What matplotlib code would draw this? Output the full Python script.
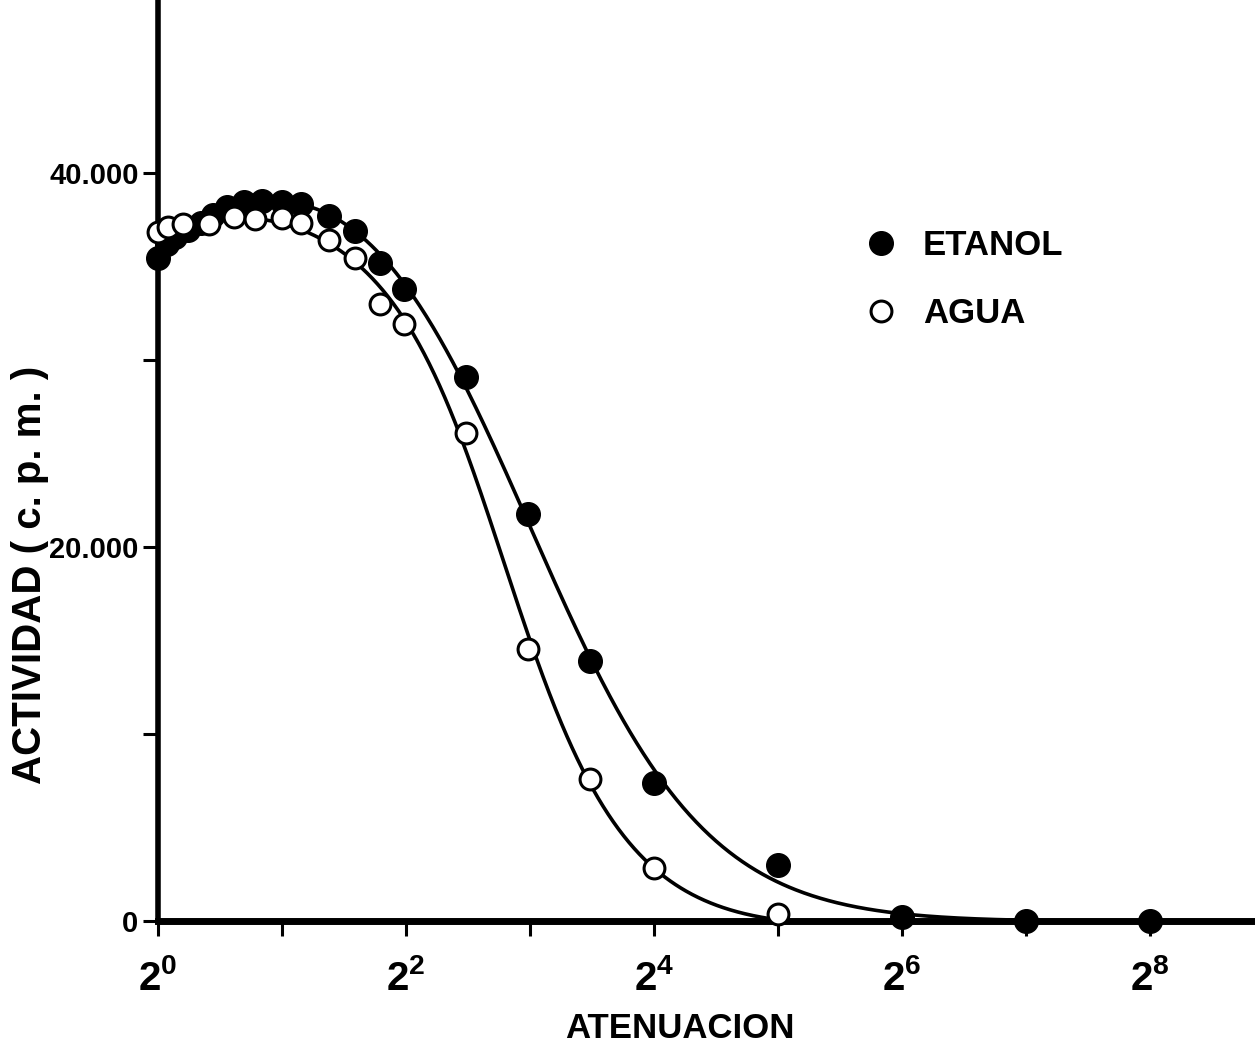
import numpy as np
import matplotlib
matplotlib.use("Agg")
import matplotlib.pyplot as plt
from matplotlib.ticker import NullLocator

# atenuacion (dilucion) y actividad en c.p.m.
aten_etanol = [1.00, 1.05, 1.10, 1.18, 1.27, 1.36, 1.47, 1.62, 1.79, 2.00, 2.23,
               2.60, 3.00, 3.46, 3.95, 5.6, 7.9, 11.2, 16, 32, 64, 128, 256]
act_etanol = [35440, 36210, 36600, 36950, 37350, 37740, 38200, 38450, 38480,
              38460, 38340, 37700, 36890, 35170, 33820, 29070, 21740, 13880,
              7370, 2990, 230, 0, 0]

aten_agua = [1.00, 1.06, 1.15, 1.33, 1.53, 1.72, 2.00, 2.23, 2.60, 3.00, 3.46,
             3.95, 5.6, 7.9, 11.2, 16, 32]
act_agua = [36830, 37120, 37260, 37250, 37620, 37550, 37600, 37320, 36410,
            35440, 32970, 31950, 26070, 14570, 7620, 2810, 370]

y_ticks = [0, 10000, 20000, 30000, 40000]
y_labels = ["0", "", "20.000", "", "40.000"]
x_pot = list(range(9))


def ajuste(aten, act):
    # curva tipo Richards en log2(x) con numerador cuadratico,
    # busqueda en rejilla y minimos cuadrados lineales
    x = np.log2(aten)
    y = np.asarray(act, float)
    x0, s, nu = np.meshgrid(np.linspace(1.5, 5.0, 71),
                            np.linspace(0.15, 1.5, 55),
                            np.geomspace(0.15, 4.0, 40), indexing="ij")
    x0, s, nu = x0.ravel(), s.ravel(), nu.ravel()
    z = np.clip((x[None, :] - x0[:, None]) / s[:, None], -50, 50)
    g = (1 + np.exp(z)) ** -nu[:, None]
    A = np.stack([g, g * x, g * x**2], axis=2)
    AtA = np.einsum("nij,nik->njk", A, A) + 1e-9 * np.eye(3)
    Aty = np.einsum("nij,i->nj", A, y)
    c = np.linalg.solve(AtA, Aty[..., None])[..., 0]
    err = ((np.einsum("nij,nj->ni", A, c) - y) ** 2).sum(axis=1)
    k = np.argmin(err)
    p = (x0[k], s[k], nu[k], c[k])

    def f(xq):
        gq = (1 + np.exp(np.clip((xq - p[0]) / p[1], -50, 50))) ** -p[2]
        return gq * (p[3][0] + p[3][1] * xq + p[3][2] * xq**2)
    return f


fuente = ["Liberation Sans", "DejaVu Sans"]
plt.rcParams["mathtext.fontset"] = "custom"
for k in ["rm", "it", "bf"]:
    plt.rcParams["mathtext." + k] = "Liberation Sans:bold"

fig = plt.figure(figsize=(12.55, 10.52), dpi=100)
ax = fig.add_axes([158 / 1255, 131 / 1052, 1097 / 1255, 921 / 1052])

# curvas ajustadas en escala log2
for aten, act in [(aten_etanol, act_etanol), (aten_agua, act_agua)]:
    f = ajuste(aten, act)
    lx = np.log2(aten)
    xs = np.linspace(lx[0], lx[-1], 600)
    ys = np.clip(f(xs), 0, None)
    ax.plot(2**xs, ys, color="black", lw=2.6, solid_capstyle="round", zorder=2)

ax.plot(aten_etanol, act_etanol, "o", ms=17, color="black", mec="black",
        clip_on=False, zorder=3, label="ETANOL")
ax.plot(aten_agua, act_agua, "o", ms=15, mfc="white", mec="black", mew=2.2,
        clip_on=False, zorder=4, label="AGUA")

ax.set_xscale("log", base=2)
ax.set_xlim(1, 2 ** (1097 / 124))
ax.set_ylim(0, 49250)

for s in ["top", "right"]:
    ax.spines[s].set_visible(False)
ax.spines["left"].set_linewidth(4)
ax.spines["bottom"].set_linewidth(5)

ax.set_xticks([2**k for k in x_pot],
              [f"$2^{{{k}}}$" if k % 2 == 0 else "" for k in x_pot])
ax.xaxis.set_minor_locator(NullLocator())
ax.tick_params(axis="x", direction="out", length=11, width=2.2, pad=16,
               labelsize=29)

ax.set_yticks(y_ticks, y_labels, fontsize=21, fontweight="bold", family=fuente)
ax.tick_params(axis="y", direction="out", length=11, width=2.2, pad=3)

fig.text(30 / 1255, 1 - 575 / 1052, "ACTIVIDAD ( c. p. m. )", rotation=90,
         ha="center", va="center", fontsize=29, fontweight="bold",
         family=fuente)
fig.text(680 / 1255, 1 - 1029 / 1052, "ATENUACION", ha="center", va="center",
         fontsize=25, fontweight="bold", family=fuente)

ax.legend(loc="upper left", bbox_to_anchor=(864 / 1255, 1 - 229 / 1052),
          bbox_transform=fig.transFigure, frameon=False, numpoints=1,
          handlelength=1.0, handletextpad=0.7, labelspacing=1.0,
          borderpad=0, borderaxespad=0,
          prop={"family": fuente, "weight": "bold", "size": 25})

fig.savefig("out.png", dpi=100, facecolor="white")
